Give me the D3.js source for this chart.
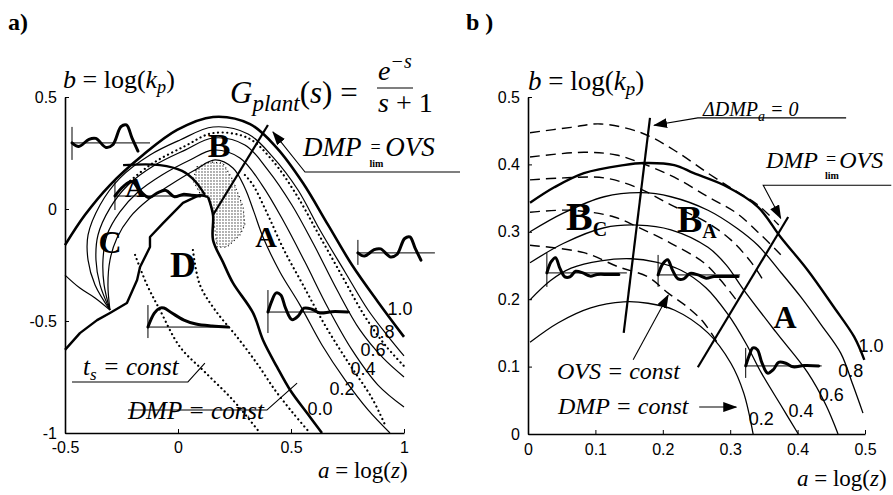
<!DOCTYPE html>
<html>
<head>
<meta charset="utf-8">
<script src="https://cdn.jsdelivr.net/npm/d3@7"></script>
<style>
  body { margin: 0; background: #fff; }
  svg { display: block; }
  .tick text { font-family: "Liberation Sans", Arial, sans-serif; font-size: 16px; fill: #000; }
  .ser { font-family: "Liberation Serif", "Times New Roman", serif; fill: #000; }
  .num { font-family: "Liberation Sans", Arial, sans-serif; font-size: 18px; fill: #000; }
</style>
</head>
<body>
<svg id="chart"></svg>
<script>
// ---- panel a) : a = log(z) vs b = log(kp), contour lines
const xTicksA = [-0.5, 0, 0.5, 1];
const yTicksA = [-1, -0.5, 0, 0.5];
const levelsA = ["1.0", "0.8", "0.6", "0.4", "0.2", "0.0"];

const a10 = [[-0.5,-0.161],[-0.412,-0.027],[-0.301,0.107],[-0.155,0.241],[-0.004,0.353],[0.155,0.411],[0.319,0.379],[0.438,0.272],[0.553,0.116],[0.664,-0.071],[0.770,-0.250],[0.885,-0.415],[1.0,-0.571]];
const a08 = [[-0.301,-0.451],[-0.367,-0.339],[-0.398,-0.228],[-0.398,-0.116],[-0.345,0.018],[-0.257,0.138],[-0.124,0.241],[0.009,0.308],[0.155,0.366],[0.310,0.335],[0.420,0.232],[0.531,0.085],[0.628,-0.094],[0.739,-0.281],[0.841,-0.451],[0.925,-0.563],[1.0,-0.656]];
const a06 = [[-0.301,-0.451],[-0.345,-0.339],[-0.363,-0.228],[-0.354,-0.116],[-0.301,0.004],[-0.221,0.107],[-0.102,0.196],[0.031,0.263],[0.155,0.317],[0.296,0.286],[0.398,0.174],[0.504,0.018],[0.602,-0.161],[0.704,-0.362],[0.805,-0.540],[0.907,-0.665],[1.0,-0.750]];
const a04 = [[-0.301,-0.451],[-0.327,-0.339],[-0.332,-0.228],[-0.314,-0.116],[-0.257,-0.013],[-0.177,0.076],[-0.071,0.152],[0.053,0.219],[0.155,0.263],[0.274,0.228],[0.372,0.107],[0.469,-0.058],[0.562,-0.237],[0.664,-0.442],[0.770,-0.629],[0.885,-0.786],[1.0,-0.884]];
const a02 = [[-0.301,-0.451],[-0.310,-0.339],[-0.301,-0.228],[-0.270,-0.129],[-0.212,-0.036],[-0.133,0.040],[-0.035,0.107],[0.075,0.174],[0.164,0.219],[0.243,0.183],[0.296,0.094],[0.336,-0.013],[0.376,-0.125],[0.451,-0.281],[0.540,-0.429],[0.637,-0.607],[0.739,-0.763],[0.841,-0.897],[0.938,-1.0]];
const a00 = [[0.133,0.054],[0.155,-0.027],[0.155,-0.138],[0.199,-0.237],[0.243,-0.330],[0.332,-0.464],[0.376,-0.585],[0.438,-0.705],[0.496,-0.808],[0.571,-0.911],[0.637,-1.0]];
const aBoundD = [[-0.5,-0.629],[-0.434,-0.554],[-0.358,-0.496],[-0.301,-0.464],[-0.226,-0.420],[-0.181,-0.317],[-0.168,-0.259],[-0.124,-0.170],[-0.124,-0.125],[-0.066,-0.063],[0.022,0.027],[0.097,0.063],[0.133,0.054]];
const aBoundC = [[-0.5,-0.295],[-0.434,-0.353],[-0.367,-0.397],[-0.301,-0.451]];
const aTopArc = [[-0.243,0.196],[-0.080,0.196],[0.018,0.170],[0.075,0.125],[0.119,0.063]];
const aShade = [[0.084,0.188],[0.142,0.210],[0.199,0.205],[0.243,0.129],[0.288,0.009],[0.296,-0.071],[0.274,-0.116],[0.217,-0.170],[0.173,-0.170],[0.155,-0.027],[0.133,0.049],[0.097,0.071],[0.066,0.129]];
const aDeltaLine = [[0.155,-0.027],[0.398,0.375]];
const aDot1 = [[-0.257,0.085],[-0.124,0.196],[0.031,0.281],[0.155,0.339],[0.310,0.317],[0.416,0.219],[0.522,0.067],[0.619,-0.107],[0.726,-0.299],[0.823,-0.473],[0.916,-0.607],[1.0,-0.701]];
const aDot2 = [[0.296,0.152],[0.332,0.107],[0.398,-0.027],[0.469,-0.183],[0.553,-0.339],[0.650,-0.518],[0.752,-0.683],[0.858,-0.844],[0.916,-0.964]];
const aTs1 = [[-0.190,-0.205],[-0.137,-0.339],[-0.080,-0.451],[0.009,-0.616],[0.119,-0.728],[0.243,-0.853],[0.363,-1.0]];
const aTs2 = [[0.066,-0.183],[0.097,-0.339],[0.164,-0.451],[0.265,-0.576],[0.354,-0.696],[0.429,-0.808],[0.509,-0.911],[0.584,-1.0]];

// ---- panel b)
const xTicksB = [0, 0.1, 0.2, 0.3, 0.4, 0.5];
const yTicksB = [0, 0.1, 0.2, 0.3, 0.4, 0.5];
const levelsB = ["1.0", "0.8", "0.6", "0.4", "0.2"];

const b10 = [[0.003,0.343],[0.039,0.366],[0.083,0.387],[0.142,0.399],[0.172,0.402],[0.217,0.399],[0.246,0.387],[0.291,0.369],[0.341,0.337],[0.375,0.292],[0.415,0.243],[0.454,0.188],[0.484,0.144],[0.499,0.110]];
const b08 = [[0.003,0.300],[0.053,0.328],[0.113,0.352],[0.168,0.358],[0.212,0.352],[0.267,0.332],[0.309,0.306],[0.341,0.280],[0.375,0.240],[0.405,0.203],[0.435,0.162],[0.464,0.120],[0.482,0.073],[0.497,0.031]];
const b06 = [[0.003,0.254],[0.053,0.283],[0.113,0.306],[0.163,0.310],[0.212,0.303],[0.267,0.277],[0.294,0.251],[0.320,0.214],[0.368,0.151],[0.415,0.091],[0.442,0.043],[0.460,0]];
const b04 = [[0.003,0.199],[0.034,0.228],[0.064,0.246],[0.108,0.257],[0.153,0.260],[0.190,0.255],[0.227,0.243],[0.264,0.217],[0.297,0.177],[0.323,0.135],[0.346,0.091],[0.375,0.043],[0.401,0]];
const b02 = [[0.003,0.136],[0.045,0.165],[0.093,0.187],[0.142,0.196],[0.178,0.194],[0.217,0.184],[0.267,0.150],[0.301,0.105],[0.320,0.061],[0.334,0]];
const bDash1 = [[0.003,0.447],[0.064,0.455],[0.108,0.460],[0.168,0.447],[0.217,0.421],[0.267,0.387],[0.306,0.362],[0.341,0.340],[0.372,0.310]];
const bDash2 = [[0.003,0.411],[0.083,0.418],[0.131,0.414],[0.168,0.402],[0.217,0.381],[0.267,0.352],[0.309,0.328],[0.346,0.295],[0.375,0.266]];
const bDash3 = [[0.003,0.377],[0.053,0.380],[0.113,0.380],[0.163,0.365],[0.212,0.340],[0.267,0.313],[0.301,0.288],[0.331,0.255],[0.349,0.228]];
const bDash4 = [[0.003,0.329],[0.064,0.332],[0.128,0.322],[0.163,0.307],[0.212,0.283],[0.261,0.254],[0.286,0.228],[0.309,0.199]];
const bDash5 = [[0.003,0.280],[0.083,0.269],[0.134,0.248],[0.178,0.233],[0.208,0.209],[0.237,0.188],[0.261,0.165],[0.283,0.132]];
const bDeltaLine = [[0.181,0.469],[0.142,0.150]];
const bALine = [[0.386,0.322],[0.252,0.099]];

// step-response sketches (t 0..1, normalised height)
const waveGrow = [[0,0],[0.1,-0.2],[0.25,0.2],[0.35,0.25],[0.5,-0.25],[0.6,-0.1],[0.72,0.9],[0.8,1.0],[0.88,0.3],[0.97,-0.45]];
const waveDecay = [[0,0],[0.1,0.6],[0.2,0.9],[0.3,0.3],[0.4,-0.1],[0.5,0.2],[0.6,0.35],[0.7,-0.05],[0.8,0.1],[0.9,0.05],[1,0]];
const waveOver = [[0,0],[0.05,0.6],[0.1,1.0],[0.16,0.9],[0.22,0.2],[0.3,-0.4],[0.38,-0.2],[0.45,0.2],[0.55,0.15],[0.65,-0.05],[0.8,0.02],[1,0]];
const waveSlow = [[0,0],[0.08,0.7],[0.15,0.95],[0.2,0.95],[0.3,0.7],[0.45,0.35],[0.6,0.15],[0.8,0.05],[1,0]];
const waveRing = [[0,0],[0.06,0.7],[0.12,0.95],[0.18,0.3],[0.25,-0.25],[0.32,-0.25],[0.4,0.1],[0.5,0],[0.6,-0.2],[0.7,-0.1],[0.85,-0.1],[1,-0.1]];

// scales
const xa = d3.scaleLinear().domain([-0.5, 1]).range([65, 404]);
const ya = d3.scaleLinear().domain([-1, 0.5]).range([433, 97]);
const xb = d3.scaleLinear().domain([0, 0.5]).range([528, 865]);
const yb = d3.scaleLinear().domain([0, 0.5]).range([434, 97]);

const svg = d3.select('#chart').attr('width', 893).attr('height', 495);
svg.append('rect').attr('width', 893).attr('height', 495).attr('fill', '#fff');

const defs = svg.append('defs');
const pat = defs.append('pattern').attr('id', 'stipple')
    .attr('width', 3).attr('height', 3).attr('patternUnits', 'userSpaceOnUse');
pat.append('rect').attr('width', 3).attr('height', 3).attr('fill', '#fff');
pat.append('circle').attr('cx', 1).attr('cy', 1).attr('r', 0.65).attr('fill', '#222');

defs.append('marker')
    .attr('id', 'arr')
    .attr('markerUnits', 'userSpaceOnUse')
    .attr('markerWidth', 14).attr('markerHeight', 10)
    .attr('refX', 13).attr('refY', 5)
    .attr('orient', 'auto')
    .append('path').attr('d', 'M0,0 L14,5 L0,10 z').attr('fill', '#000');

function curveLine(xs, ys, curve) {
    return d3.line().x(d => xs(d[0])).y(d => ys(d[1]))
        .curve(curve || d3.curveCatmullRom.alpha(0.5));
}

function draw(g, data, xs, ys, w, dash, curve) {
    const p = g.append('path')
        .attr('d', curveLine(xs, ys, curve)(data))
        .attr('fill', 'none')
        .attr('stroke', '#000')
        .attr('stroke-width', w)
        .attr('stroke-linejoin', 'round');
    if (dash === 'dot') p.attr('stroke-dasharray', '0.1,4.5').attr('stroke-linecap', 'round');
    else if (dash) p.attr('stroke-dasharray', dash);
    return p;
}

function arrow(g, pts, xs, ys) {
    g.append('path')
        .attr('d', curveLine(xs, ys, d3.curveLinear)(pts))
        .attr('fill', 'none').attr('stroke', '#000').attr('stroke-width', 1.1)
        .attr('marker-end', 'url(#arr)');
}

function inset(g, o, xs, ys) {
    const x0 = xs(o.at[0]), y0 = ys(o.at[1]);
    g.append('line').attr('x1', x0).attr('x2', x0).attr('y1', y0 - o.up).attr('y2', y0 + o.down)
        .attr('stroke', '#000').attr('stroke-width', 1);
    g.append('line').attr('x1', x0).attr('x2', x0 + o.len).attr('y1', y0).attr('y2', y0)
        .attr('stroke', '#000').attr('stroke-width', 1);
    const wl = d3.line().x(d => x0 + d[0] * o.w).y(d => y0 - d[1] * o.h).curve(d3.curveCatmullRom.alpha(0.5));
    g.append('path').attr('d', wl(o.shape)).attr('fill', 'none')
        .attr('stroke', '#000').attr('stroke-width', 3).attr('stroke-linecap', 'round');
}

function styleAxis(sel) {
    sel.select('.domain').attr('stroke', '#000').attr('stroke-width', 1.6);
    sel.selectAll('.tick line').attr('stroke', '#000').attr('stroke-width', 1);
}

// ================= panel a =================
const gA = svg.append('g');

gA.append('path')
    .attr('d', curveLine(xa, ya, d3.curveLinearClosed)(aShade))
    .attr('fill', 'url(#stipple)').attr('stroke', '#000')
    .attr('stroke-width', 1.2).attr('stroke-dasharray', '1,3');

gA.append('g').attr('transform', `translate(0,${ya(-1)})`)
    .call(d3.axisBottom(xa).tickValues(xTicksA).tickFormat(d => String(d))
        .tickSizeInner(-4).tickSizeOuter(0).tickPadding(9))
    .call(styleAxis);
gA.append('g').attr('transform', `translate(${xa(-0.5)},0)`)
    .call(d3.axisLeft(ya).tickValues(yTicksA).tickFormat(d => String(d))
        .tickSizeInner(-4).tickSizeOuter(0).tickPadding(8))
    .call(styleAxis);

[a10, a00].forEach(d => draw(gA, d, xa, ya, 2.6));
[a08, a06, a04, a02].forEach(d => draw(gA, d, xa, ya, 1.2));
draw(gA, aBoundD, xa, ya, 2.4, null, d3.curveLinear);
draw(gA, aBoundC, xa, ya, 1.2);
draw(gA, aTopArc, xa, ya, 2.4);
draw(gA, aDeltaLine, xa, ya, 2.2, null, d3.curveLinear);
[aDot1, aDot2, aTs1, aTs2].forEach(d => draw(gA, d, xa, ya, 2.2, 'dot'));

const insetsA = [
    { at: [-0.469, 0.295], len: 78, up: 16, down: 17, w: 68, h: 18, shape: waveGrow },
    { at: [-0.279, 0.058], len: 90, up: 16, down: 14, w: 85, h: 16, shape: waveDecay },
    { at: [0.796, -0.196], len: 77, up: 13, down: 12, w: 65, h: 16, shape: waveGrow },
    { at: [0.398, -0.460], len: 82, up: 22, down: 21, w: 80, h: 19, shape: waveOver },
    { at: [-0.133, -0.527], len: 82, up: 22, down: 11, w: 80, h: 20, shape: waveSlow }
];
insetsA.forEach(o => inset(gA, o, xa, ya));

const levelPosA = [[0.982,-0.451],[0.903,-0.554],[0.863,-0.634],[0.819,-0.719],[0.726,-0.808],[0.628,-0.897]];
levelsA.forEach((t, i) => {
    gA.append('text').attr('class', 'num')
        .attr('x', xa(levelPosA[i][0])).attr('y', ya(levelPosA[i][1]))
        .attr('text-anchor', 'middle').attr('dominant-baseline', 'middle').text(t);
});

// annotation arrows / leaders
arrow(gA, [[1.248,0.165],[0.562,0.165],[0.420,0.344]], xa, ya);
draw(gA, [[-0.469,-0.772],[0.044,-0.772],[0.119,-0.688]], xa, ya, 1.1, null, d3.curveLinear);
draw(gA, [[-0.221,-0.897],[0.394,-0.897],[0.527,-0.777]], xa, ya, 1.1, null, d3.curveLinear);

// region letters
[['B', 219, 157, 34], ['A', 135, 197, 28], ['C', 110, 253, 32], ['D', 183, 277, 36], ['A', 266, 247, 30]]
    .forEach(([t, x, y, s]) => {
        gA.append('text').attr('class', 'ser').attr('x', x).attr('y', y)
            .attr('text-anchor', 'middle').attr('font-weight', 'bold').attr('font-size', s).text(t);
    });

// texts
gA.append('text').attr('class', 'ser').attr('x', 8).attr('y', 30)
    .attr('font-weight', 'bold').attr('font-size', 24).text('a)');

function bLog(g, x, y, s) {
    const t = g.append('text').attr('class', 'ser').attr('x', x).attr('y', y).attr('font-size', s);
    t.append('tspan').attr('font-style', 'italic').text('b');
    t.append('tspan').text(' = log(');
    t.append('tspan').attr('font-style', 'italic').text('k');
    t.append('tspan').attr('font-style', 'italic').attr('font-size', s * 0.7).attr('dy', 5).text('p');
    t.append('tspan').attr('dy', -5).text(')');
}
function aLog(g, x, y, s) {
    const t = g.append('text').attr('class', 'ser').attr('x', x).attr('y', y).attr('font-size', s);
    t.append('tspan').attr('font-style', 'italic').text('a');
    t.append('tspan').text(' = log(');
    t.append('tspan').attr('font-style', 'italic').text('z');
    t.append('tspan').text(')');
}
function dmpLim(g, x, y, s) {
    g.append('text').attr('class', 'ser').attr('x', x).attr('y', y)
        .attr('font-size', s).attr('font-style', 'italic').text('DMP');
    g.append('text').attr('class', 'ser').attr('x', x + s * 2.5).attr('y', y - 3)
        .attr('font-size', 18).text('=');
    g.append('text').attr('class', 'ser').attr('x', x + s * 2.5 - 1).attr('y', y + 11)
        .attr('font-size', 10).attr('font-weight', 'bold').text('lim');
    g.append('text').attr('class', 'ser').attr('x', x + s * 3.05).attr('y', y)
        .attr('font-size', s).attr('font-style', 'italic').text('OVS');
}

bLog(gA, 63, 88, 26);
aLog(gA, 318, 478, 23);
dmpLim(gA, 303, 156, 27);

const gp = gA.append('text').attr('class', 'ser').attr('x', 230).attr('y', 103).attr('font-size', 31);
gp.append('tspan').attr('font-style', 'italic').text('G');
gp.append('tspan').attr('font-style', 'italic').attr('font-size', 23).attr('dy', 8).text('plant');
gp.append('tspan').attr('dy', -8).text('(');
gp.append('tspan').attr('font-style', 'italic').text('s');
gp.append('tspan').text(') =');
const ex = gA.append('text').attr('class', 'ser').attr('x', 378).attr('y', 80).attr('font-size', 28);
ex.append('tspan').attr('font-style', 'italic').text('e');
ex.append('tspan').attr('font-style', 'italic').attr('font-size', 20).attr('dy', -12).text('\u2212s');
gA.append('line').attr('x1', 377).attr('x2', 413).attr('y1', 88).attr('y2', 88)
    .attr('stroke', '#000').attr('stroke-width', 1.2);
const den = gA.append('text').attr('class', 'ser').attr('x', 378).attr('y', 112).attr('font-size', 28);
den.append('tspan').attr('font-style', 'italic').text('s');
den.append('tspan').text(' + 1');

const ts = gA.append('text').attr('class', 'ser').attr('x', 83).attr('y', 375)
    .attr('font-size', 25).attr('font-style', 'italic');
ts.append('tspan').text('t');
ts.append('tspan').attr('font-size', 17).attr('dy', 5).text('s');
ts.append('tspan').attr('dy', -5).text(' = const');
gA.append('text').attr('class', 'ser').attr('x', 128).attr('y', 419)
    .attr('font-size', 25).attr('font-style', 'italic').text('DMP = const');

// ================= panel b =================
const gB = svg.append('g');

gB.append('g').attr('transform', `translate(0,${yb(0)})`)
    .call(d3.axisBottom(xb).tickValues(xTicksB).tickFormat(d => String(d))
        .tickSizeInner(-4).tickSizeOuter(0).tickPadding(10))
    .call(styleAxis);
gB.append('g').attr('transform', `translate(${xb(0)},0)`)
    .call(d3.axisLeft(yb).tickValues(yTicksB).tickFormat(d => String(d))
        .tickSizeInner(-4).tickSizeOuter(0).tickPadding(8))
    .call(styleAxis);

draw(gB, b10, xb, yb, 2.4);
[b08, b06, b04, b02].forEach(d => draw(gB, d, xb, yb, 1.3));
[bDash1, bDash2, bDash3, bDash4, bDash5].forEach(d => draw(gB, d, xb, yb, 1.4, '10,6'));
draw(gB, bDeltaLine, xb, yb, 2.2, null, d3.curveLinear);
draw(gB, bALine, xb, yb, 2.2, null, d3.curveLinear);

const insetsB = [
    { at: [0.028, 0.239], len: 80, up: 20, down: 14, w: 72, h: 16, shape: waveRing },
    { at: [0.193, 0.236], len: 82, up: 20, down: 12, w: 80, h: 16, shape: waveRing },
    { at: [0.323, 0.101], len: 76, up: 18, down: 12, w: 73, h: 18, shape: waveOver }
];
insetsB.forEach(o => inset(gB, o, xb, yb));

const levelPosB = [[0.509,0.129],[0.479,0.091],[0.450,0.056],[0.405,0.033],[0.346,0.021]];
levelsB.forEach((t, i) => {
    gB.append('text').attr('class', 'num')
        .attr('x', xb(levelPosB[i][0])).attr('y', yb(levelPosB[i][1]))
        .attr('text-anchor', 'middle').attr('dominant-baseline', 'middle').text(t);
});

arrow(gB, [[0.472,0.469],[0.252,0.469],[0.187,0.458]], xb, yb);
arrow(gB, [[0.539,0.369],[0.349,0.369],[0.375,0.320]], xb, yb);
arrow(gB, [[0.156,0.110],[0.208,0.206]], xb, yb);
arrow(gB, [[0.254,0.040],[0.309,0.040]], xb, yb);

gB.append('text').attr('class', 'ser').attr('x', 466).attr('y', 30)
    .attr('font-weight', 'bold').attr('font-size', 24).text('b )');
bLog(gB, 528, 90, 27);
aLog(gB, 797, 486, 23);
dmpLim(gB, 766, 168, 24);

const dd = gB.append('text').attr('class', 'ser').attr('x', 703).attr('y', 116)
    .attr('font-size', 20).attr('font-style', 'italic');
dd.append('tspan').text('\u0394DMP');
dd.append('tspan').attr('font-size', 14).attr('dy', 5).text('a');
dd.append('tspan').attr('dy', -5).text(' = 0');

gB.append('text').attr('class', 'ser').attr('x', 557).attr('y', 379)
    .attr('font-size', 24).attr('font-style', 'italic').text('OVS = const');
gB.append('text').attr('class', 'ser').attr('x', 558).attr('y', 414)
    .attr('font-size', 24).attr('font-style', 'italic').text('DMP = const');

function bSub(g, x, y, s, sub) {
    const t = g.append('text').attr('class', 'ser').attr('x', x).attr('y', y)
        .attr('font-weight', 'bold').attr('font-size', s);
    t.append('tspan').text('B');
    t.append('tspan').attr('font-size', 20).attr('dy', 6).text(sub);
}
bSub(gB, 566, 230, 40, 'C');
bSub(gB, 677, 232, 38, 'A');
gB.append('text').attr('class', 'ser').attr('x', 785).attr('y', 328)
    .attr('text-anchor', 'middle').attr('font-weight', 'bold').attr('font-size', 32).text('A');
</script>
</body>
</html>
